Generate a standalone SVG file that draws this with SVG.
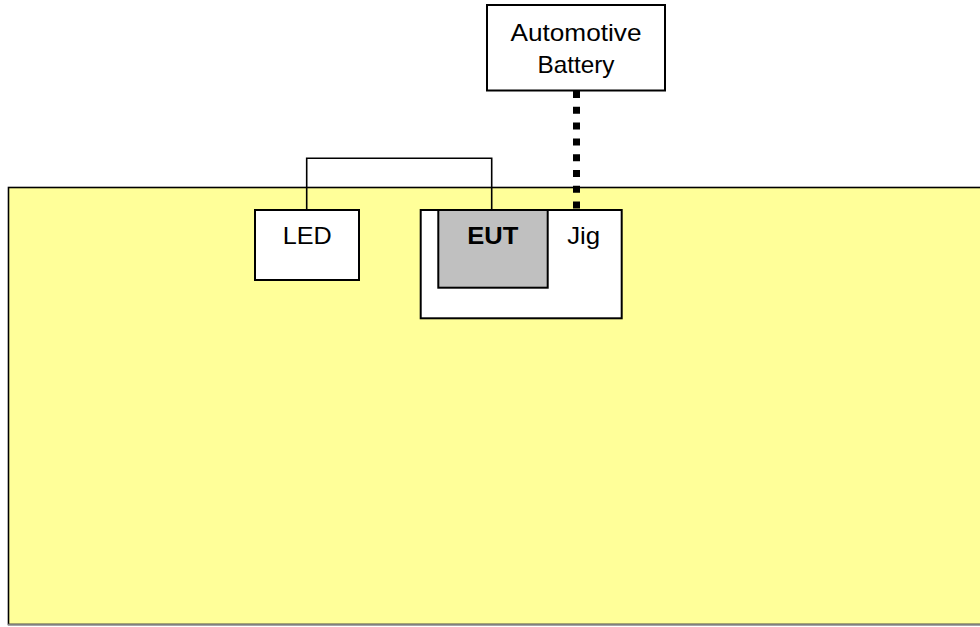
<svg xmlns="http://www.w3.org/2000/svg" width="980" height="627" viewBox="0 0 980 627">
<style>
  .box { fill: #ffffff; stroke: #000000; stroke-width: 2; }
  .eut { fill: #c0c0c0; stroke: #000000; stroke-width: 2; }
  .lbl { font-family: "Liberation Sans", Arial, sans-serif; font-size: 24px; fill: #000000; text-anchor: middle; }
  .bold { font-weight: bold; }
  .wire { fill: none; stroke: #000000; stroke-width: 1.6; }
  .dc { fill: none; stroke: #000000; stroke-width: 7; stroke-dasharray: 7 8.8; }
</style>
<rect x="0" y="0" width="980" height="627" fill="#ffffff"/>
<g id="table">
  <rect x="8.5" y="187.5" width="980" height="437" fill="#ffff99" stroke="#000000" stroke-width="1.6"/>
  <line x1="8" y1="624.5" x2="980" y2="624.5" stroke="#808080" stroke-width="1.5"/>
</g>
<g id="connectors">
  <polyline class="wire" points="306.7,210 306.7,158.3 491.7,158.3 491.7,210"/>
  <line class="dc" x1="576.5" y1="91" x2="576.5" y2="210"/>
</g>
<g id="battery">
  <rect class="box" x="487" y="5" width="178" height="85.5"/>
  <text class="lbl" x="576" y="41" textLength="131" lengthAdjust="spacingAndGlyphs">Automotive</text>
  <text class="lbl" x="576" y="73" textLength="77" lengthAdjust="spacingAndGlyphs">Battery</text>
</g>
<g id="led">
  <rect class="box" x="255" y="210" width="104" height="70"/>
  <text class="lbl" x="307.3" y="243.5" textLength="49" lengthAdjust="spacingAndGlyphs">LED</text>
</g>
<g id="jig">
  <rect class="box" x="420.7" y="210" width="201" height="108.3"/>
  <text class="lbl" x="583.7" y="243.5" textLength="33" lengthAdjust="spacingAndGlyphs">Jig</text>
</g>
<g id="eut">
  <rect class="eut" x="438.3" y="210" width="109.4" height="77.7"/>
  <text class="lbl bold" x="492.8" y="243.5" textLength="51" lengthAdjust="spacingAndGlyphs">EUT</text>
</g>
</svg>
